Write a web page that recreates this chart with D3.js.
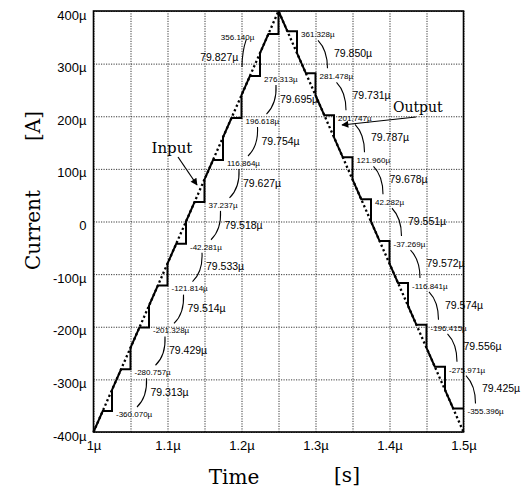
<!DOCTYPE html>
<html>
<head>
<meta charset="utf-8">
<script src="https://cdn.jsdelivr.net/npm/d3@7"></script>
<style>
  body { margin: 0; background: #fff; }
  svg { display: block; }
</style>
</head>
<body>
<svg id="chart" width="523" height="489"></svg>
<script>
// input triangle (time in µs, current in µA)
const inputTime = [1.0, 1.25, 1.5];
const inputCurrent = [-400, 400, -400];

// held output levels on the rising and the falling ramp
const riseLevels = [-360.070, -280.757, -201.328, -121.814, -42.281, 37.237, 116.864, 196.618, 276.313, 356.140];
const fallLevels = [361.328, 281.478, 201.747, 121.960, 42.282, -37.269, -116.841, -196.415, -275.971, -355.396];
// time where each hold ends
const riseHoldEnd = [1.025, 1.05, 1.075, 1.1, 1.125, 1.15, 1.175, 1.2, 1.225, 1.25];
const fallHoldEnd = [1.275, 1.3, 1.325, 1.35, 1.375, 1.4, 1.425, 1.45, 1.475, 1.5];
// step heights written beside the brackets
const riseDiffs = ["79.313", "79.429", "79.514", "79.533", "79.518", "79.627", "79.754", "79.695", "79.827"];
const fallDiffs = ["79.850", "79.731", "79.787", "79.678", "79.551", "79.572", "79.574", "79.556", "79.425"];

const xLabelTicks = [1.0, 1.1, 1.2, 1.3, 1.4, 1.5];

let svg = d3.select("#chart");
let x = d3.scaleLinear().domain([1.0, 1.5]).range([93.5, 463.5]);
let y = d3.scaleLinear().domain([-400, 400]).range([432, 11]);

//ramp time <-> current on each leg
let riseRamp = d3.scaleLinear().domain([inputCurrent[0], inputCurrent[1]]).range([inputTime[0], inputTime[1]]);
let fallRamp = d3.scaleLinear().domain([inputCurrent[1], inputCurrent[2]]).range([inputTime[1], inputTime[2]]);

let defs = svg.append("defs");
defs.append("marker")
    .attr("id", "arrow")
    .attr("viewBox", "0 0 10 10")
    .attr("refX", 9).attr("refY", 5)
    .attr("markerWidth", 9).attr("markerHeight", 7)
    .attr("markerUnits", "userSpaceOnUse")
    .attr("orient", "auto")
    .append("path").attr("d", "M0,0L10,5L0,10z").attr("fill", "#000");

//grid + tick labels
let gx = svg.append("g")
    .attr("transform", "translate(0," + y(-400) + ")")
    .call(d3.axisBottom(x).ticks(10).tickSize(-(y(-400) - y(400))).tickPadding(9)
        .tickFormat(d => xLabelTicks.some(v => Math.abs(v - d) < 1e-9) ? d3.format("~g")(d) + "µ" : ""));
let gy = svg.append("g")
    .attr("transform", "translate(" + x(1.0) + ",0)")
    .call(d3.axisLeft(y).ticks(8).tickSize(-(x(1.5) - x(1.0))).tickPadding(7)
        .tickFormat(d => d === 0 ? "0" : d + "µ"));
[gx, gy].forEach(g => {
    g.select(".domain").remove();
    g.selectAll(".tick line")
        .attr("stroke", "#222")
        .attr("stroke-width", 0.9)
        .attr("stroke-dasharray", "1.2,1.3");
    g.selectAll(".tick text")
        .attr("fill", "#000")
        .style("font-family", "'Liberation Sans', Arial, sans-serif")
        .style("font-size", "13px");
});
gy.selectAll(".tick text").attr("dy", "0.62em");

//frame
svg.append("rect")
    .attr("x", x(1.0)).attr("y", y(400))
    .attr("width", x(1.5) - x(1.0)).attr("height", y(-400) - y(400))
    .attr("fill", "none").attr("stroke", "#000").attr("stroke-width", 1.6);

//input ramp (dotted)
let inputData = inputTime.map((t, i) => ({t: t, v: inputCurrent[i]}));
svg.append("path")
    .datum(inputData)
    .attr("d", d3.line().x(d => x(d.t)).y(d => y(d.v)))
    .attr("fill", "none")
    .attr("stroke", "#000")
    .attr("stroke-width", 2.3)
    .attr("stroke-dasharray", "2.2,2.6");

//output: track the ramp, hold the sample, then jump back to the ramp
let outData = [{t: inputTime[0], v: inputCurrent[0]}];
riseLevels.forEach((lv, i) => {
    let te = riseHoldEnd[i];
    outData.push({t: riseRamp(lv), v: lv});
    outData.push({t: te, v: lv});
    outData.push({t: te, v: riseRamp.invert(te)});
});
fallLevels.forEach((lv, i) => {
    let te = fallHoldEnd[i];
    outData.push({t: fallRamp(lv), v: lv});
    outData.push({t: te, v: lv});
    if (i < fallLevels.length - 1) outData.push({t: te, v: fallRamp.invert(te)});
});
svg.append("path")
    .datum(outData)
    .attr("d", d3.line().x(d => x(d.t)).y(d => y(d.v)))
    .attr("fill", "none")
    .attr("stroke", "#000")
    .attr("stroke-width", 2)
    .attr("stroke-linejoin", "miter");

//annotations
let ann = svg.append("g")
    .style("font-family", "'Liberation Sans', Arial, sans-serif")
    .attr("fill", "#000");
let fmtLevel = v => v.toFixed(3) + "µ";

let riseLab = riseLevels.map((lv, i) => ({x: x(riseHoldEnd[i]) + 4, y: y(lv) + 3}));
let fallLab = fallLevels.map((lv, i) => ({x: x(fallHoldEnd[i]) + 4, y: y(lv) + 3}));
//top rising label sits left of the ramp
let topI = riseLevels.length - 1;
riseLab[topI].end = x(riseRamp(riseLevels[topI])) - 14;

riseLevels.forEach((lv, i) => {
    let p = riseLab[i];
    ann.append("text")
        .attr("x", p.end !== undefined ? p.end : p.x)
        .attr("y", p.y)
        .attr("dy", "0.35em")
        .attr("text-anchor", p.end !== undefined ? "end" : "start")
        .style("font-size", "8px")
        .text(fmtLevel(lv));
});
fallLevels.forEach((lv, i) => {
    ann.append("text")
        .attr("x", fallLab[i].x)
        .attr("y", fallLab[i].y)
        .attr("dy", "0.35em")
        .style("font-size", "8px")
        .text(fmtLevel(lv));
});

function bracket(p0, p1, c) {
    let p = d3.path();
    p.moveTo(p0[0], p0[1]);
    p.quadraticCurveTo(c[0], c[1], p1[0], p1[1]);
    ann.append("path").attr("d", p.toString())
        .attr("fill", "none").attr("stroke", "#000").attr("stroke-width", 1.1);
}

//rising step heights
riseDiffs.forEach((txt, k) => {
    let i = k + 1;
    let ym = (y(riseLevels[i]) + y(riseLevels[i - 1])) / 2 + 2;
    if (i === topI) {
        ann.append("text")
            .attr("x", x(riseRamp(riseLevels[i])) - 30).attr("y", ym)
            .attr("dy", "0.35em").attr("text-anchor", "end")
            .style("font-size", "10.5px").text(txt + "µ");
        let t0 = [riseLab[i].end - 8, riseLab[i].y + 2];
        let b0 = [riseLab[i - 1].x - 22, riseLab[i - 1].y - 12];
        bracket(t0, b0, [b0[0], t0[1] + 0.45 * (b0[1] - t0[1])]);
        return;
    }
    ann.append("text")
        .attr("x", x(riseHoldEnd[i]) + 20).attr("y", ym)
        .attr("dy", "0.35em")
        .style("font-size", "10.5px").text(txt + "µ");
    let t0 = [riseLab[i].x + 12, riseLab[i].y + 6];
    let b0 = [riseLab[i - 1].x + 21, riseLab[i - 1].y - 7];
    bracket(t0, b0, [t0[0] + 1, t0[1] + 0.65 * (b0[1] - t0[1])]);
});

//falling step heights
fallDiffs.forEach((txt, j) => {
    let ym = (y(fallLevels[j]) + y(fallLevels[j + 1])) / 2 + 1;
    ann.append("text")
        .attr("x", x(fallHoldEnd[j]) + 37).attr("y", ym)
        .attr("dy", "0.35em")
        .style("font-size", "10.5px").text(txt + "µ");
    let t0 = [fallLab[j].x + 17, fallLab[j].y + 6];
    let b0 = [fallLab[j + 1].x + 8, fallLab[j + 1].y - 8];
    bracket(t0, b0, [b0[0], t0[1] + 0.35 * (b0[1] - t0[1])]);
});

//Input / Output callouts
let serif = "'DejaVu Serif', 'Liberation Serif', serif";
svg.append("text")
    .attr("x", x(1.106)).attr("y", y(139.7))
    .attr("dy", "0.35em").attr("text-anchor", "middle")
    .style("font-family", serif).style("font-size", "15px")
    .text("Input");
svg.append("line")
    .attr("x1", x(1.1142)).attr("y1", y(122.6))
    .attr("x2", x(1.1399)).attr("y2", y(69.4))
    .attr("stroke", "#000").attr("stroke-width", 1.2)
    .attr("marker-end", "url(#arrow)");
svg.append("text")
    .attr("x", x(1.4047)).attr("y", y(217.6))
    .attr("dy", "0.35em")
    .style("font-family", serif).style("font-size", "14px")
    .text("Output");
svg.append("line")
    .attr("x1", x(1.4358)).attr("y1", y(198.6))
    .attr("x2", x(1.3358)).attr("y2", y(183.4))
    .attr("stroke", "#000").attr("stroke-width", 1.2)
    .attr("marker-end", "url(#arrow)");

//axis titles
svg.append("text")
    .attr("x", 234).attr("y", 484)
    .attr("text-anchor", "middle")
    .style("font-family", serif).style("font-size", "20px")
    .text("Time");
svg.append("text")
    .attr("x", 347).attr("y", 482)
    .attr("text-anchor", "middle")
    .style("font-family", serif).style("font-size", "20px")
    .text("[s]");
svg.append("text")
    .attr("transform", "translate(40,230) rotate(-90)")
    .attr("text-anchor", "middle")
    .style("font-family", serif).style("font-size", "20px")
    .text("Current");
svg.append("text")
    .attr("transform", "translate(40,126) rotate(-90)")
    .attr("text-anchor", "middle")
    .style("font-family", serif).style("font-size", "20px")
    .text("[A]");
</script>
</body>
</html>
